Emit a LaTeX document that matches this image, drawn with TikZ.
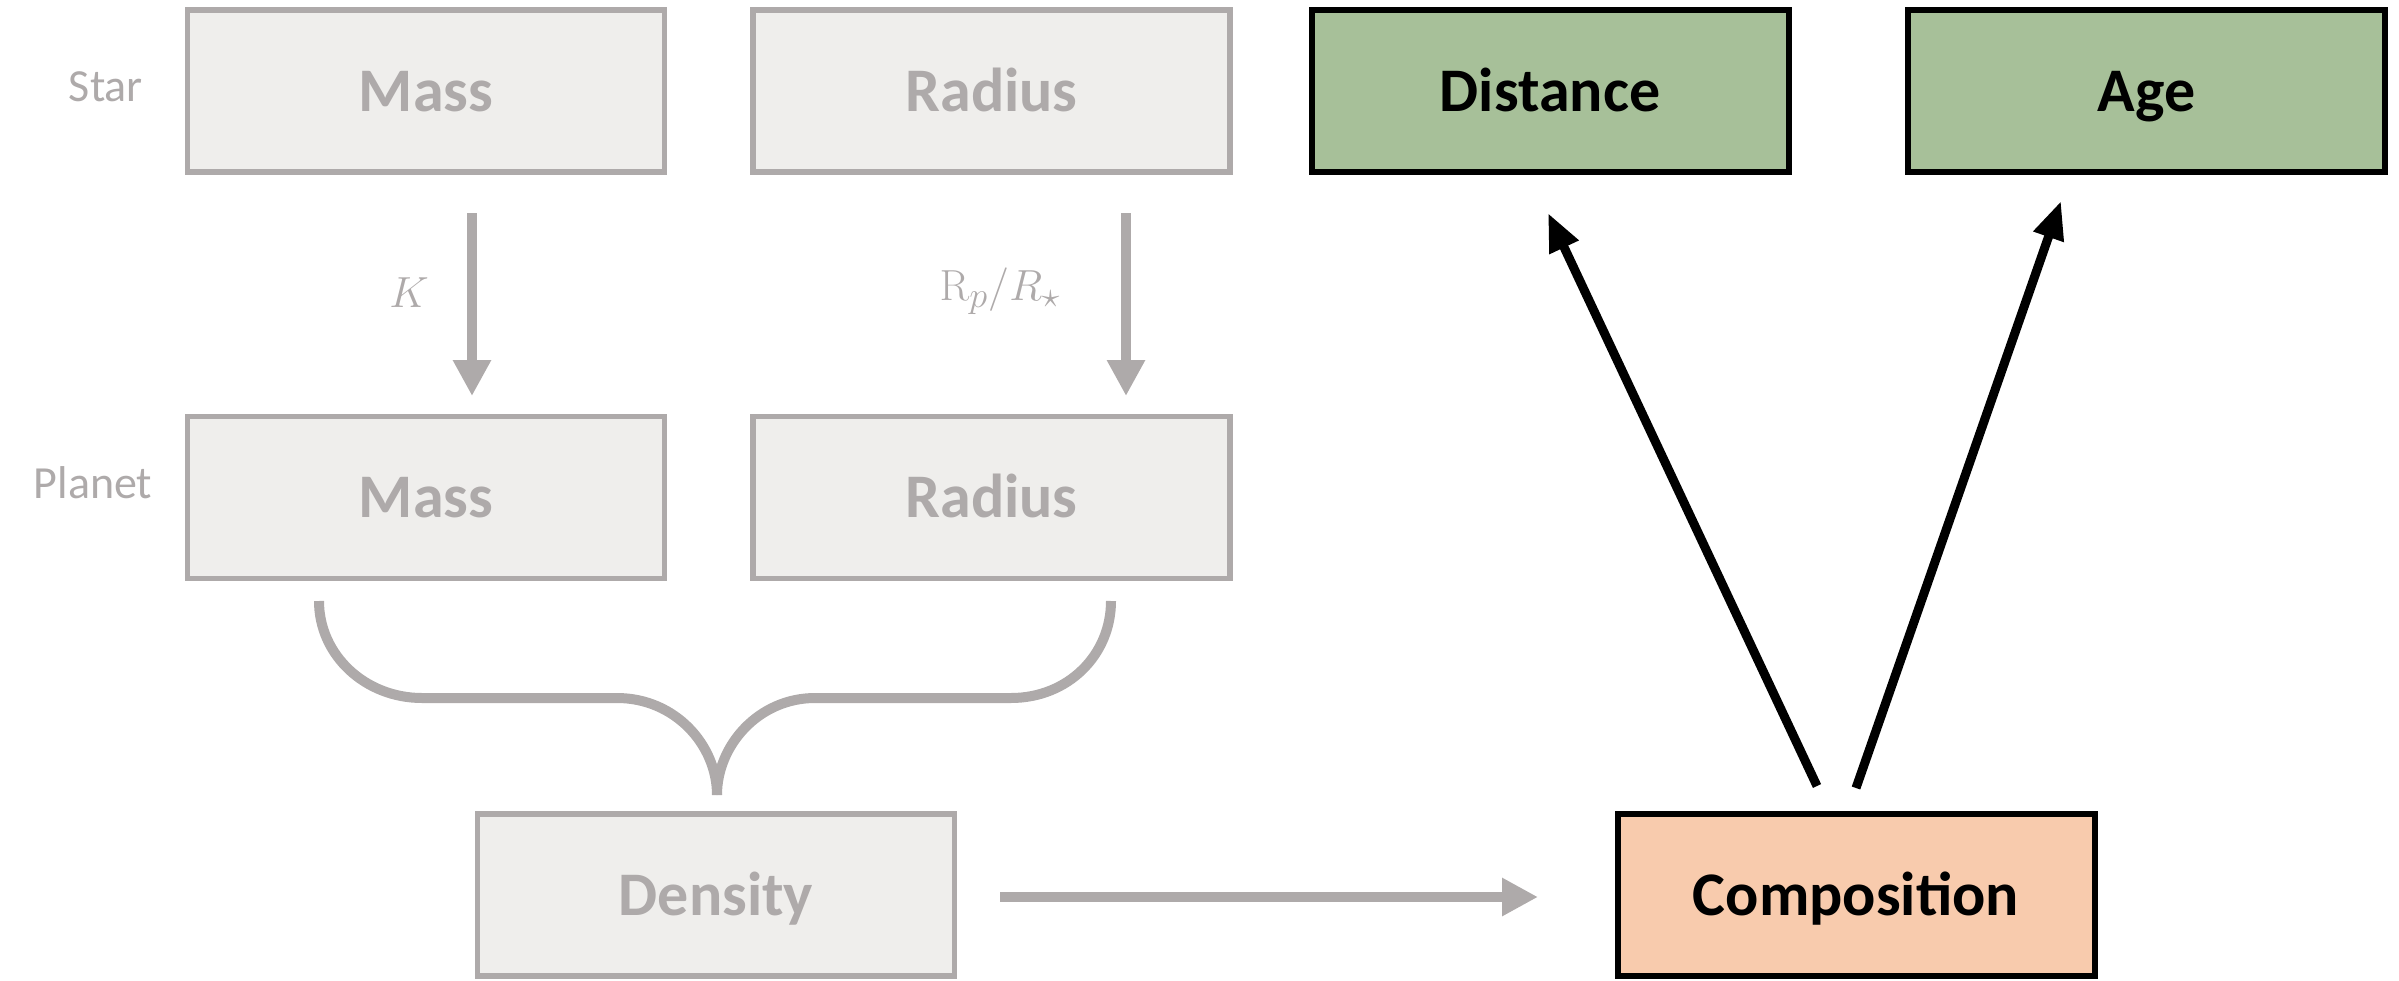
\documentclass[tikz,border=0pt]{standalone}
\usepackage{graphicx}
\usepackage[no-math]{fontspec}
\setmainfont{Carlito}
\usetikzlibrary{arrows.meta}
\definecolor{gbord}{RGB}{174,170,170}
\definecolor{gfill}{RGB}{239,238,236}
\definecolor{boxgreen}{RGB}{167,192,153}
\definecolor{boxorange}{RGB}{248,203,173}
\tikzset{
 box/.style={rectangle, minimum width=477pt, minimum height=162pt, inner sep=0pt, line width=5.5pt,
   font=\fontsize{62}{62}\selectfont\bfseries, text height=40pt, text depth=0pt},
 greybox/.style={box, draw=gbord, fill=gfill, text=gbord},
 darkbox/.style={box, draw=black, line width=6pt, text=black},
 side/.style={text=gbord, font=\fontsize{46}{46}\selectfont, inner sep=0pt},
 mathlabel/.style={text=gbord, font=\Huge, inner sep=0pt},
 greyarrow/.style={draw=gbord, line width=10pt, -{Triangle[length=36pt,width=36pt]}},
 blackarrow/.style={draw=black, line width=9pt, -{Triangle[length=38pt,width=30pt]}},
 bracestyle/.style={draw=gbord, line width=10pt}
}
\begin{document}
\begin{tikzpicture}[x=1pt,y=-1pt]
\useasboundingbox (0,0) rectangle (2399,980);
% boxes
\node[greybox] (sMass) at (426,91) {Mass};
\node[greybox] (sRadius) at (991.5,91) {Radius};
\node[darkbox, fill=boxgreen] (dist) at (1550,91) {Distance};
\node[darkbox, fill=boxgreen] (age) at (2146.5,91) {Age};
\node[greybox] (pMass) at (426,497.5) {Mass};
\node[greybox] (pRadius) at (991.5,497.5) {Radius};
\node[greybox] (dens) at (716,895) {Density};
\node[darkbox, fill=boxorange] (comp) at (1856,895) {Composition};
% side labels
\node[side] (star) at (106,87) {Star};
\node[side] (planet) at (93,483) {Planet};
% gray arrows
\coordinate (k1) at (472,213);
\coordinate (k2) at (472,396);
\draw[greyarrow] (k1) -- (k2);
\node[mathlabel] (klab) at (409,293) {\scalebox{1.75}{$K$}};
\coordinate (r1) at (1126,213);
\coordinate (r2) at (1126,396);
\draw[greyarrow] (r1) -- (r2);
\node[mathlabel] (rlab) at (1000,291) {\scalebox{1.75}{$\mathrm{R}_p/R_\star$}};
\coordinate (d1) at (1000,897);
\coordinate (d2) at (1538,897);
\draw[greyarrow] (d1) -- (d2);
% brace
\draw[bracestyle] (319,601) .. controls (319,655) and (365,698) .. (422,698) -- (617,698)
  .. controls (675,698) and (717,745) .. (717,795);
\draw[bracestyle] (717,795) .. controls (717,745) and (759,698) .. (815,698) -- (1011,698)
  .. controls (1068,698) and (1111,655) .. (1111,601);
% black arrows
\coordinate (c1) at (1817,786);
\coordinate (c2) at (1548,213);
\draw[blackarrow] (c1) -- (c2);
\coordinate (c3) at (1856,788);
\coordinate (c4) at (2061,201);
\draw[blackarrow] (c3) -- (c4);
\end{tikzpicture}
\end{document}
